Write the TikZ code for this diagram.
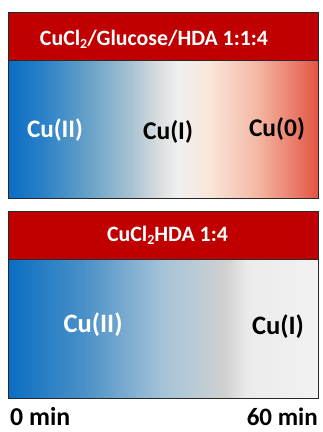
\documentclass[tikz,border=0pt]{standalone}
\usepackage{fontspec}
\usepackage{graphicx}
\setmainfont{Carlito}
\pgfdeclarehorizontalshading{topgrad}{100bp}{%
color(0bp)=(rgb,255:red,10;green,110;blue,195);
color(25bp)=(rgb,255:red,10;green,110;blue,195);
color(31bp)=(rgb,255:red,45;green,130;blue,200);
color(37.5bp)=(rgb,255:red,100;green,160;blue,200);
color(45bp)=(rgb,255:red,170;green,195;blue,210);
color(49bp)=(rgb,255:red,215;green,220;blue,222);
color(52.5bp)=(rgb,255:red,240;green,240;blue,240);
color(57.5bp)=(rgb,255:red,249;green,230;blue,218);
color(65bp)=(rgb,255:red,244;green,185;blue,165);
color(75bp)=(rgb,255:red,228;green,85;blue,68);
color(100bp)=(rgb,255:red,228;green,85;blue,68)}
\pgfdeclarehorizontalshading{botgrad}{100bp}{%
color(0bp)=(rgb,255:red,10;green,110;blue,195);
color(25bp)=(rgb,255:red,10;green,110;blue,195);
color(37.5bp)=(rgb,255:red,75;green,145;blue,200);
color(50bp)=(rgb,255:red,165;green,195;blue,215);
color(56bp)=(rgb,255:red,190;green,205;blue,212);
color(60bp)=(rgb,255:red,208;green,208;blue,208);
color(63.5bp)=(rgb,255:red,235;green,235;blue,235);
color(75bp)=(rgb,255:red,242;green,242;blue,242);
color(100bp)=(rgb,255:red,242;green,242;blue,242)}
\definecolor{hdrred}{RGB}{192,0,0}
\definecolor{frame}{RGB}{40,40,40}
\tikzset{
  hdr/.style={fill=hdrred,draw=frame,line width=0.8pt},
  panel/.style={draw=frame,line width=0.8pt},
  hdrtext/.style={text=white,font=\fontsize{22}{24}\selectfont\bfseries,inner sep=0pt},
  cu/.style={font=\fontsize{24}{28}\selectfont\bfseries,inner sep=0pt},
  timelbl/.style={font=\fontsize{24}{28}\selectfont\bfseries,inner sep=0pt,text=black}
}
\newcommand{\subtwo}{\raisebox{-0.35ex}{\fontsize{14}{14}\selectfont 2}}
\newcommand{\fitw}[2]{\resizebox{#1}{!}{#2}}
\begin{document}
\begin{tikzpicture}[x=1pt,y=-1pt]
\useasboundingbox (0,0) rectangle (323,432);
% top panel
\shade[shading=topgrad] (8,60) rectangle (318,198);
\draw[panel] (8,60) rectangle (318,198);
\draw[hdr] (8,12) rectangle (318,60);
\node[hdrtext,anchor=base] (h1) at (154,45) {\fitw{228pt}{CuCl\subtwo/Glucose/HDA 1:1:4}};
\node[cu,text=white] (a1) at (55,130) {\fitw{56pt}{Cu(II)}};
\node[cu,text=black] (a2) at (168,132) {\fitw{50pt}{Cu(I)}};
\node[cu,text=black] (a3) at (277,129) {\fitw{56pt}{Cu(0)}};
% bottom panel
\shade[shading=botgrad] (8,259) rectangle (318,398);
\draw[panel] (8,259) rectangle (318,398);
\draw[hdr] (8,211) rectangle (318,259);
\node[hdrtext,anchor=base] (h2) at (167.5,241) {\fitw{121pt}{CuCl\subtwo HDA 1:4}};
\node[cu,text=white] (b1) at (93,325) {\fitw{59pt}{Cu(II)}};
\node[cu,text=black] (b2) at (278,327) {\fitw{52pt}{Cu(I)}};
% time labels
\node[timelbl,anchor=base west] (t0) at (10,425) {\fitw{60pt}{0 min}};
\node[timelbl,anchor=base east] (t60) at (318,425) {\fitw{71pt}{60 min}};
\end{tikzpicture}
\end{document}
